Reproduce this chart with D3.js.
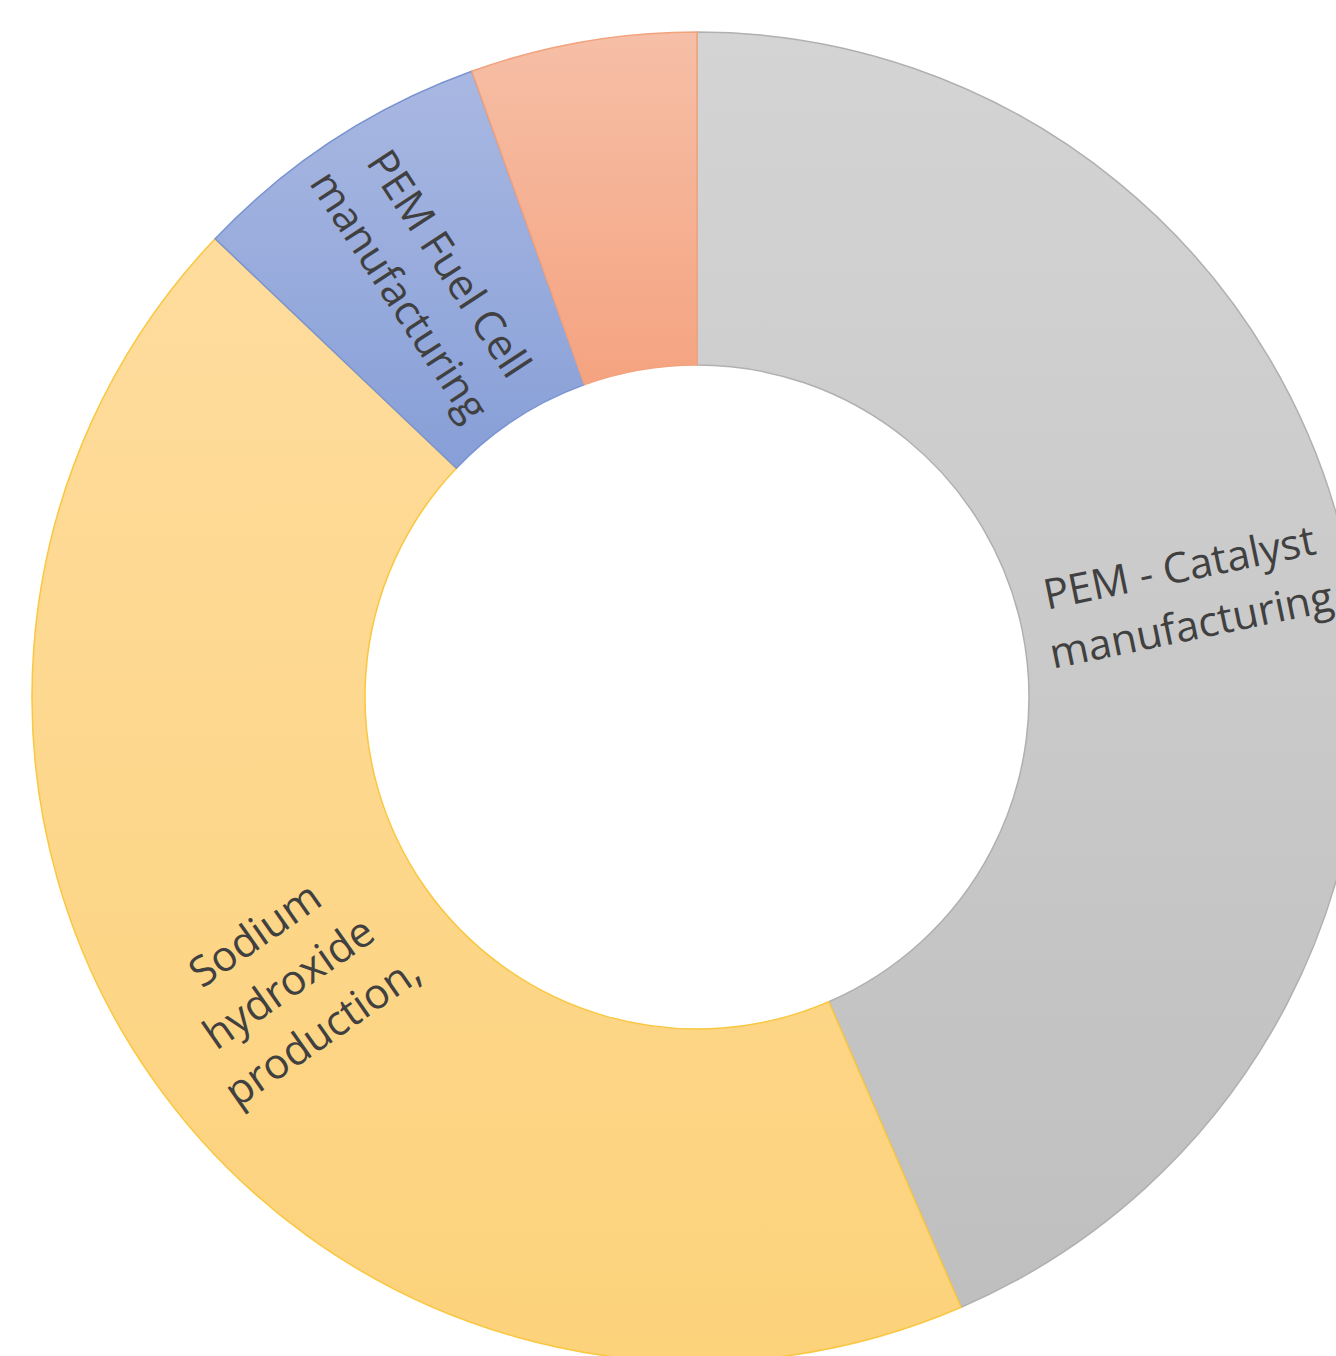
<!DOCTYPE html>
<html>
<head>
<meta charset="utf-8">
<script src="https://cdn.jsdelivr.net/npm/d3@7"></script>
<style>
  html, body { margin: 0; padding: 0; background: #ffffff; overflow: hidden; }
  svg { display: block; }
</style>
</head>
<body>
<svg id="chart" width="1336" height="1356"></svg>
<script>
// ---- data ----
const categories = [
  "PEM - Catalyst manufacturing",
  "Sodium hydroxide production,",
  "PEM Fuel Cell manufacturing",
  "Other"
];
const values = [43.5, 43.6, 7.4, 5.5];
const labelLines = [
  ["PEM - Catalyst", "manufacturing"],
  ["Sodium", "hydroxide", "production,"],
  ["PEM Fuel Cell", "manufacturing"],
  []
];
const colorTop    = ["#d4d4d4", "#fedc9d", "#a9b8e2", "#f6bfa7"];
const colorBottom = ["#bfbfbf", "#fcd27b", "#879fd7", "#f5a380"];
const colorStroke = ["#b0b0b0", "#f9c740", "#7a94d2", "#f2a27c"];

// ---- layout ----
const W = 1336, H = 1356;
const cx = 697, cy = 697;
const outerR = 665, innerR = 332;
const fontSize = 42, lineH = 59;

const svg = d3.select("#chart");
const defs = svg.append("defs");
colorTop.forEach((c, i) => {
  const g = defs.append("linearGradient")
    .attr("id", "grad" + i)
    .attr("x1", 0).attr("y1", 0).attr("x2", 0).attr("y2", 1);
  g.append("stop").attr("offset", "0%").attr("stop-color", colorTop[i]);
  g.append("stop").attr("offset", "100%").attr("stop-color", colorBottom[i]);
});

const data = categories.map((c, i) => ({ name: c, value: values[i], i }));
const pie = d3.pie().sort(null).value(d => d.value);
const arcs = pie(data);
const arc = d3.arc().innerRadius(innerR).outerRadius(outerR);

const g = svg.append("g").attr("transform", `translate(${cx},${cy})`);

g.selectAll("path.slice")
  .data(arcs)
  .join("path")
  .attr("class", "slice")
  .attr("d", arc)
  .attr("fill", d => `url(#grad${d.data.i})`)
  .attr("stroke", d => colorStroke[d.data.i])
  .attr("stroke-width", 1.5)
  .attr("stroke-linejoin", "round");

// labels oriented along the radial direction
const lbl = g.selectAll("g.label")
  .data(arcs.filter(d => labelLines[d.data.i].length))
  .join("g")
  .attr("class", "label")
  .attr("transform", d => {
    const [x, y] = arc.centroid(d);
    const mid = (d.startAngle + d.endAngle) / 2;
    let rot = mid * 180 / Math.PI - 90;
    if (rot > 90) rot -= 180;
    if (rot < -90) rot += 180;
    return `translate(${x},${y}) rotate(${rot})`;
  });

lbl.each(function(d) {
  const lines = labelLines[d.data.i];
  const t = d3.select(this).append("text")
    .attr("text-anchor", "middle")
    .attr("font-family", "'Open Sans', 'Noto Sans', sans-serif")
    .attr("font-size", fontSize)
    .attr("fill", "#404040");
  const n = lines.length;
  lines.forEach((ln, k) => {
    t.append("tspan")
      .attr("x", 0)
      .attr("y", (k - (n - 1) / 2) * lineH)
      .attr("dy", "0.36em")
      .text(ln);
  });
});
</script>
</body>
</html>
